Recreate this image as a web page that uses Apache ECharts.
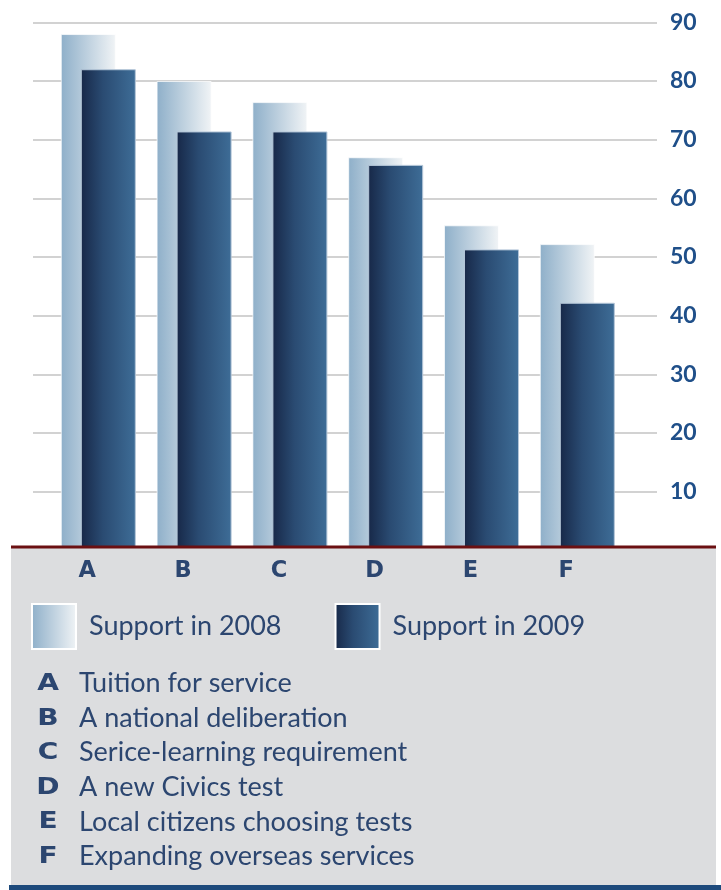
<!DOCTYPE html>
<html>
<head>
<meta charset="utf-8">
<script src="https://cdn.jsdelivr.net/npm/echarts@6/dist/echarts.min.js"></script>
<style>
html,body{margin:0;padding:0;background:#fff;}
#chart{width:721px;height:890px;}
</style>
</head>
<body>
<div id="chart"></div>
<script>
var categories = ['A', 'B', 'C', 'D', 'E', 'F'];
var support2008 = [88, 80, 76.4, 67, 55.4, 52.2];
var support2009 = [82, 71.4, 71.4, 65.7, 51.3, 42.2];
var seriesNames = ['Support in 2008', 'Support in 2009'];
var keyLabels = ['Tuition for service', 'A national deliberation', 'Serice-learning requirement',
  'A new Civics test', 'Local citizens choosing tests', 'Expanding overseas services'];
var yTicks = [10, 20, 30, 40, 50, 60, 70, 80, 90];

var chart = echarts.init(document.getElementById('chart'));

var textColor = '#2c4670';
var grad2008 = new echarts.graphic.LinearGradient(0, 0, 1, 0, [
  {offset: 0, color: '#8eafc9'}, {offset: 1, color: '#f1f4f6'}]);
var grad2009 = new echarts.graphic.LinearGradient(0, 0, 1, 0, [
  {offset: 0, color: '#172848'}, {offset: 0.4, color: '#2a4b72'}, {offset: 1, color: '#3e6d97'}]);

var keyGraphics = [];
categories.forEach(function (c, i) {
  var base = 691 + i * 34.6;
  keyGraphics.push({
    type: 'text', z: 30, x: 48, y: base + 4.5, scaleX: 1.22,
    style: {text: c, fill: textColor, font: 'bold 23px "DejaVu Sans"', align: 'center', verticalAlign: 'bottom'}
  });
  keyGraphics.push({
    type: 'text', z: 30, x: 79, y: base + 6,
    style: {text: keyLabels[i], fill: textColor, font: '27px Lato', align: 'left', verticalAlign: 'bottom'}
  });
});

var option = {
  animation: false,
  backgroundColor: '#ffffff',
  grid: [
    {left: 33, right: 64, top: 22.3, bottom: 339.6},
    {left: 50.4, width: 574.8, top: 22.3, bottom: 339.6}
  ],
  xAxis: [
    {gridIndex: 0, type: 'category', data: categories, show: false},
    {gridIndex: 1, type: 'category', data: categories, z: 30,
      axisLine: {show: false}, axisTick: {show: false},
      axisLabel: {margin: 9, padding: [0, 22, 0, 0], color: textColor,
        fontFamily: 'DejaVu Sans', fontWeight: 'bold', fontSize: 22.5}}
  ],
  yAxis: [
    {gridIndex: 0, type: 'value', position: 'right', min: 0, max: 90, interval: 10,
      axisLine: {show: false}, axisTick: {show: false},
      splitLine: {lineStyle: {color: '#d2d2d2', width: 2}},
      axisLabel: {showMinLabel: false, margin: 13, color: '#1f4f89', fontFamily: 'Lato',
        fontWeight: 'bold', fontSize: 23,
        formatter: function (v) { return yTicks.indexOf(v) >= 0 ? String(v) : ''; }}},
    {gridIndex: 1, type: 'value', min: 0, max: 90, interval: 10, show: false, splitLine: {show: false}}
  ],
  legend: {
    left: 26, top: 598, z: 30,
    itemWidth: 44, itemHeight: 45, itemGap: 53,
    icon: 'rect',
    itemStyle: {borderColor: '#ffffff', borderWidth: 2},
    textStyle: {fontFamily: 'Lato', fontSize: 27, color: textColor, padding: [8, 0, 0, 8]},
    data: seriesNames
  },
  series: [
    {name: seriesNames[0], type: 'bar', xAxisIndex: 1, yAxisIndex: 1, data: support2008,
      barWidth: 55, barGap: '-63.64%',
      itemStyle: {color: grad2008, borderColor: 'rgba(255,255,255,0.7)', borderWidth: 1}},
    {name: seriesNames[1], type: 'bar', xAxisIndex: 1, yAxisIndex: 1, data: support2009,
      barWidth: 55, barGap: '-63.64%',
      itemStyle: {color: grad2009, borderColor: '#b4c6d8', borderWidth: 1}}
  ],
  graphic: [
    {type: 'rect', z: 10, shape: {x: 11, y: 548, width: 705, height: 338}, style: {fill: '#dcdddf'}},
    {type: 'rect', z: 11, shape: {x: 11, y: 545.5, width: 705, height: 3}, style: {fill: '#6b1012'}},
    {type: 'rect', z: 11, shape: {x: 9, y: 885, width: 712, height: 5}, style: {fill: '#1d4a7c'}}
  ].concat(keyGraphics)
};
chart.setOption(option);
</script>
</body>
</html>
